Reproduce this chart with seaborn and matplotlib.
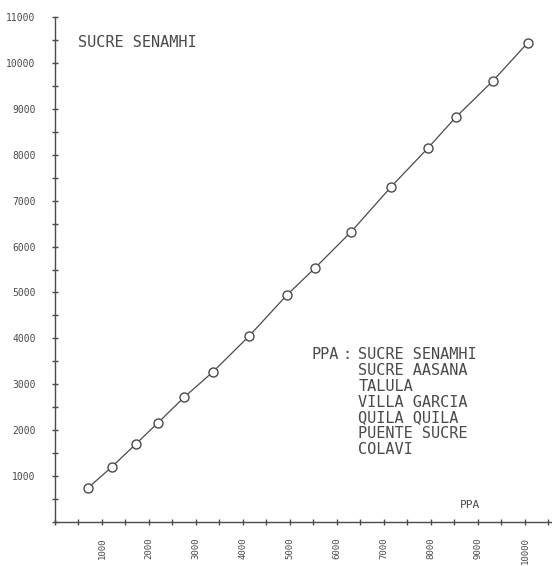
import matplotlib
matplotlib.use('Agg')
import pandas as pd
import matplotlib.pyplot as plt
import seaborn as sns
from matplotlib.ticker import MultipleLocator, FixedLocator

# Double-mass curve: cumulative PPA (x) vs cumulative SUCRE SENAMHI (y)
ppa_acum = [700, 1210, 1720, 2190, 2750, 3360, 4130, 4940, 5530, 6300,
            7150, 7940, 8530, 9320, 10060]
senamhi_acum = [740, 1200, 1700, 2160, 2720, 3270, 4050, 4950, 5530, 6320,
                7300, 8150, 8820, 9610, 10440]
estaciones = ['SUCRE SENAMHI', 'SUCRE AASANA', 'TALULA', 'VILLA GARCIA',
              'QUILA QUILA', 'PUENTE SUCRE', 'COLAVI']
y_ticks = list(range(1000, 12000, 1000))
x_ticks = list(range(1000, 11000, 1000))

df = pd.DataFrame({'PPA': ppa_acum, 'SENAMHI': senamhi_acum})

sns.set_style('ticks')
plt.rcParams['font.family'] = ['DejaVu Sans Mono']

ink = '#4a4a4a'

fig = plt.figure(figsize=(5.52, 5.66), dpi=100)
ax = fig.add_axes([55 / 552, 44 / 566, 497 / 552, 505 / 566])

sns.lineplot(data=df, x='PPA', y='SENAMHI', ax=ax, color=ink, linewidth=0.9,
             marker='o', markersize=6.5, markerfacecolor='white',
             markeredgecolor=ink, markeredgewidth=1)

ax.set_xlim(0, 10575)
ax.set_ylim(0, 11000)

ax.yaxis.set_major_locator(FixedLocator(y_ticks))
ax.xaxis.set_major_locator(FixedLocator(x_ticks))
ax.xaxis.set_minor_locator(MultipleLocator(500))
ax.yaxis.set_minor_locator(MultipleLocator(500))
ax.set_yticklabels([str(v) for v in y_ticks], fontsize=7, color=ink)
ax.set_xticklabels([str(v) for v in x_ticks], fontsize=6.5, color=ink,
                   rotation=90)
ax.tick_params(which='both', direction='inout', length=4, width=1,
               color=ink)
ax.tick_params(axis='y', pad=12)
ax.tick_params(axis='x', pad=9)

sns.despine(ax=ax)
for side in ['left', 'bottom']:
    ax.spines[side].set_color(ink)
    ax.spines[side].set_linewidth(1)

ax.set_xlabel('')
ax.set_ylabel('')

# station titles
ax.text(0.046, 0.95, 'SUCRE SENAMHI', transform=ax.transAxes, fontsize=11,
        color=ink, va='center', ha='left')

ax.text(0.517, 0.331, 'PPA', transform=ax.transAxes, fontsize=11,
        color=ink, va='center', ha='left')
ax.text(0.578, 0.331, ':', transform=ax.transAxes, fontsize=11,
        color=ink, va='center', ha='left')
for i, est in enumerate(estaciones):
    ax.text(0.61, 0.331 - i * 0.0312, est, transform=ax.transAxes,
            fontsize=11, color=ink, va='center', ha='left')

ax.text(0.835, 0.034, 'PPA', transform=ax.transAxes, fontsize=8,
        color=ink, va='center', ha='center')

fig.savefig('out.png', dpi=100, facecolor='white')
